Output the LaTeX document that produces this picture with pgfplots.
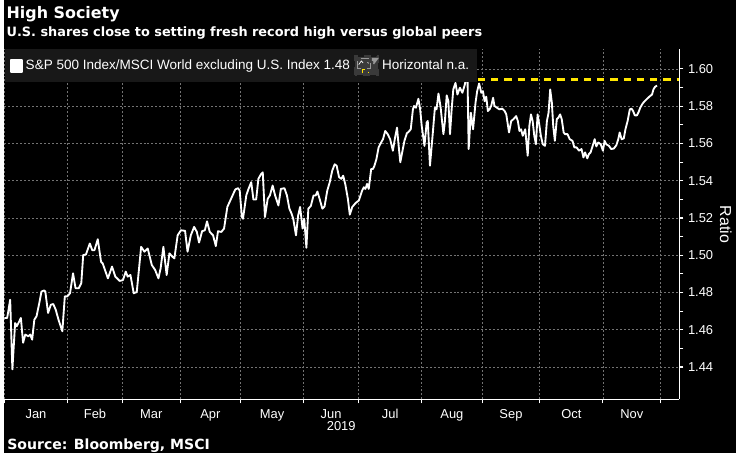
\documentclass[border=0pt]{standalone}
\usepackage{pgfplots}
\pgfplotsset{compat=1.18}
\usepackage{fontspec}
\setmainfont{Liberation Sans}
\newfontfamily\dvs{DejaVu Sans}
\definecolor{gridc}{RGB}{115,115,115}
\definecolor{byellow}{RGB}{255,230,0}
\definecolor{legbg}{RGB}{24,24,24}
\definecolor{icong}{RGB}{58,58,58}
\begin{document}
\begin{tikzpicture}
\fill[black] (0pt,0pt) rectangle (552pt,342pt);
\begin{axis}[
  at={(0pt,40.5pt)}, anchor=south west,
  scale only axis, width=509.5pt, height=264.5pt,
  xmin=0, xmax=245.85, ymin=1.4226, ymax=1.6107,
  axis x line*=bottom, axis y line*=right,
  axis line style={white, line width=0.8pt},
  tick align=outside, major tick length=3pt, minor tick length=3pt,
  tick style={white, line width=0.8pt},
  xtick={0,23,43,64,86,109,129,152,174,195,218,239},
  xticklabels={},
  extra x ticks={11.5,33,53.5,75,97.5,119,140.5,163,184.5,206.5,228.5},
  extra x tick labels={Jan,Feb,Mar,Apr,May,Jun,Jul,Aug,Sep,Oct,Nov},
  extra x tick style={grid=none, tick style={draw=none}, xticklabel style={anchor=base, yshift=-11.5pt}},
  ytick={1.44,1.46,1.48,1.50,1.52,1.54,1.56,1.58,1.60},
  minor y tick num=1,
  ticklabel style={font=\fontsize{9.75}{11}\selectfont, text=white},
  yticklabel style={/pgf/number format/.cd, fixed, fixed zerofill, precision=2, assume math mode=true},
  grid=major,
  major grid style={gridc, dash pattern=on 1.5pt off 1.5pt, line width=0.5pt},
  legend style={at={(0,1)}, anchor=north west, draw=none, fill=legbg, text=white,
    font=\fontsize{10.2}{12}\selectfont, legend columns=2, inner xsep=4pt, inner ysep=4.5pt,
    /tikz/every even column/.append style={column sep=1pt}},
]
\addplot[white, line width=1.4pt, line join=round,
  legend image code/.code={\fill[white] (0pt,-4.25pt) rectangle (8.5pt,4.25pt);}]
coordinates {
(0,1.4663) (1.0,1.4663) (2.1,1.4761) (2.9,1.4387) (3.9,1.4636) (4.5,1.4619) (5.1,1.4636) (6.0,1.4663)
(6.8,1.4530) (7.6,1.4574) (8.7,1.4565) (9.4,1.4574) (10.1,1.4547) (10.9,1.4654) (11.7,1.4672) (12.7,1.4743)
(13.5,1.4805) (14.5,1.4811) (14.9,1.4805) (15.9,1.4690) (16.9,1.4734) (17.8,1.4738) (18.7,1.4707) (19.7,1.4654)
(21.1,1.4592) (22.0,1.4779) (22.9,1.4779) (23.9,1.4796) (25.0,1.4903) (25.9,1.4823) (27.1,1.4823) (28.0,1.4850)
(28.7,1.5001) (29.7,1.5004) (31.1,1.5063) (32.0,1.5027) (32.8,1.5027) (34.0,1.5086) (35.2,1.4965) (35.8,1.4956)
(37.7,1.4876) (39.2,1.4939) (40.4,1.4885) (42.0,1.4862) (43.2,1.4867) (44.2,1.4912) (44.9,1.4885) (45.9,1.4894)
(47.1,1.4796) (48.2,1.4802) (49.8,1.5045) (51.0,1.5019) (52.2,1.5036) (53.7,1.4947) (54.9,1.4921) (56.1,1.4876)
(56.9,1.4930) (57.9,1.5045) (59.1,1.4894) (60.1,1.5010) (61.2,1.4992) (61.9,1.4983) (63.1,1.5107) (64.3,1.5134)
(65.8,1.5131) (66.7,1.5019) (67.9,1.5107) (69.1,1.5152) (70.1,1.5125) (70.9,1.5068) (72.0,1.5129) (73.0,1.5134)
(73.8,1.5182) (74.8,1.5125) (76.0,1.5107) (77.0,1.5049) (77.8,1.5129) (79.0,1.5125) (80.0,1.5143) (81.2,1.5259)
(82.0,1.5285) (83.2,1.5324) (84.1,1.5353) (85.1,1.5360) (85.7,1.5347) (86.5,1.5205) (86.9,1.5196) (88.1,1.5321)
(88.9,1.5356) (89.9,1.5392) (90.7,1.5299) (91.7,1.5299) (92.5,1.5410) (93.5,1.5436) (94.1,1.5445) (94.9,1.5205)
(95.9,1.5303) (96.7,1.5321) (97.7,1.5374) (98.6,1.5321) (99.8,1.5267) (100.7,1.5356) (102.0,1.5360) (102.9,1.5321)
(103.8,1.5250) (104.6,1.5223) (105.2,1.5196) (106.2,1.5107) (107.0,1.5214) (107.7,1.5259) (108.6,1.5143) (109.2,1.5196)
(110.0,1.5040) (110.7,1.5250) (111.6,1.5264) (112.6,1.5321) (113.4,1.5321) (114.0,1.5342) (114.8,1.5303) (115.8,1.5250)
(116.6,1.5262) (117.6,1.5347) (118.5,1.5392) (119.4,1.5454) (120.3,1.5488) (121.0,1.5481) (121.9,1.5419) (122.7,1.5410)
(123.4,1.5427) (124.2,1.5378) (125.1,1.5303) (125.8,1.5218) (126.7,1.5259) (127.9,1.5280) (129.1,1.5294) (130.3,1.5347)
(130.9,1.5365) (131.5,1.5356) (132.1,1.5383) (132.7,1.5356) (133.6,1.5463) (134.2,1.5463) (134.7,1.5477) (135.5,1.5516)
(136.3,1.5579) (137.2,1.5605) (137.9,1.5623) (138.7,1.5667) (139.6,1.5650) (140.5,1.5623) (141.5,1.5561) (142.3,1.5632)
(143.0,1.5685) (143.6,1.5587) (144.2,1.5499) (145.0,1.5561) (145.7,1.5614) (146.6,1.5655) (147.2,1.5662) (148.0,1.5676)
(148.8,1.5783) (149.2,1.5801) (149.9,1.5792) (150.8,1.5840) (151.4,1.5787) (152.0,1.5694) (153.0,1.5587) (153.8,1.5712)
(154.2,1.5721) (155.0,1.5481) (156.0,1.5650) (156.8,1.5792) (157.4,1.5783) (158.1,1.5868) (158.9,1.5792) (159.9,1.5650)
(160.4,1.5712) (161.1,1.5858) (161.7,1.5827) (162.3,1.5650) (162.9,1.5783) (163.5,1.5890) (164.3,1.5925) (165.0,1.5863)
(165.9,1.5899) (166.8,1.5872) (167.7,1.5916) (168.0,1.5939) (168.7,1.5934) (169.1,1.5570) (169.9,1.5765) (170.7,1.5676)
(171.6,1.5819) (172.2,1.5881) (172.9,1.5922) (173.7,1.5872) (174.3,1.5881) (174.9,1.5827) (175.5,1.5851) (176.1,1.5774)
(176.7,1.5783) (177.3,1.5801) (178.0,1.5845) (178.5,1.5801) (179.4,1.5792) (180.3,1.5783) (181.3,1.5787) (182.2,1.5774)
(182.8,1.5756) (183.8,1.5659) (184.6,1.5721) (185.4,1.5730) (186.4,1.5747) (187.0,1.5721) (187.6,1.5667) (188.2,1.5676)
(188.8,1.5641) (189.7,1.5676) (190.6,1.5534) (191.2,1.5694) (191.8,1.5756) (192.4,1.5721) (193.0,1.5641) (193.6,1.5596)
(194.2,1.5756) (194.8,1.5703) (195.4,1.5641) (196.1,1.5596) (196.9,1.5587) (197.6,1.5721) (198.2,1.5765) (198.8,1.5890)
(199.4,1.5819) (199.9,1.5694) (200.5,1.5614) (201.2,1.5730) (201.8,1.5739) (202.4,1.5756) (203.0,1.5730) (203.7,1.5659)
(204.2,1.5650) (205.1,1.5650) (205.9,1.5623) (206.9,1.5614) (207.6,1.5579) (208.4,1.5579) (209.3,1.5561) (210.2,1.5570)
(210.9,1.5525) (211.5,1.5552) (212.3,1.5520) (212.9,1.5543) (213.5,1.5552) (214.2,1.5584) (215.0,1.5623) (215.6,1.5584)
(216.3,1.5605) (217.2,1.5596) (218.0,1.5561) (218.6,1.5614) (219.2,1.5596) (220.2,1.5587) (221.0,1.5570) (222.0,1.5573)
(222.9,1.5591) (223.6,1.5623) (224.1,1.5659) (224.8,1.5623) (225.6,1.5627) (226.2,1.5676) (227.0,1.5721) (227.8,1.5783)
(228.4,1.5787) (229.0,1.5774) (229.6,1.5751) (230.4,1.5751) (231.0,1.5769) (231.6,1.5792) (232.5,1.5815) (233.2,1.5827)
(234.1,1.5840) (234.9,1.5851) (235.9,1.5863) (236.4,1.5890) (237.0,1.5904) (237.7,1.5911)
};
\addlegendentry{S\&P 500 Index/MSCI World excluding U.S. Index 1.48}
\addplot[byellow, line width=2.2pt, dash pattern=on 5.5pt off 4.5pt,
  legend image code/.code={
    \fill[icong] (0pt,-6.5pt) rectangle (17pt,7pt);
    \draw[gray!80, line width=0.4pt] (1.5pt,-1.5pt) rectangle (11pt,5.5pt);
    \draw[white, line width=0.5pt] (2.5pt,1pt) -- (4.5pt,3.8pt) -- (6.5pt,1.5pt) -- (8.5pt,3.2pt) -- (10pt,2pt);
    \draw[byellow, line width=0.6pt] (5pt,-5.5pt) -- (5pt,-2.5pt) -- (10pt,-2.5pt) -- (10pt,-5.5pt);
    \fill[gray!80] (12.5pt,5pt) -- (15.5pt,5pt) -- (14pt,3pt) -- cycle;
  }]
coordinates {(167.6,1.5941) (245.85,1.5941)};
\addlegendentry{Horizontal n.a.}
\end{axis}
\node[anchor=base, inner sep=0pt, text=white, font=\fontsize{9.75}{11}\selectfont] at (254.25pt,17pt) {2019};
\node[anchor=base west, inner sep=0pt, text=white, font=\dvs\bfseries\fontsize{12}{14}\selectfont] at (1.5pt,327.75pt) {High Society};
\node[anchor=base west, inner sep=0pt, text=white, font=\dvs\bfseries\fontsize{9.7}{11}\selectfont] at (1.5pt,314.25pt) {U.S. shares close to setting fresh record high versus global peers};
\node[anchor=base west, inner sep=0pt, text=white, font=\dvs\bfseries\fontsize{10.6}{12}\selectfont] at (2pt,3pt) {Source: Bloomberg, MSCI};
\node[rotate=-90, text=white, font=\fontsize{12}{14}\selectfont] at (544.5pt,172.5pt) {Ratio};
\end{tikzpicture}
\end{document}
